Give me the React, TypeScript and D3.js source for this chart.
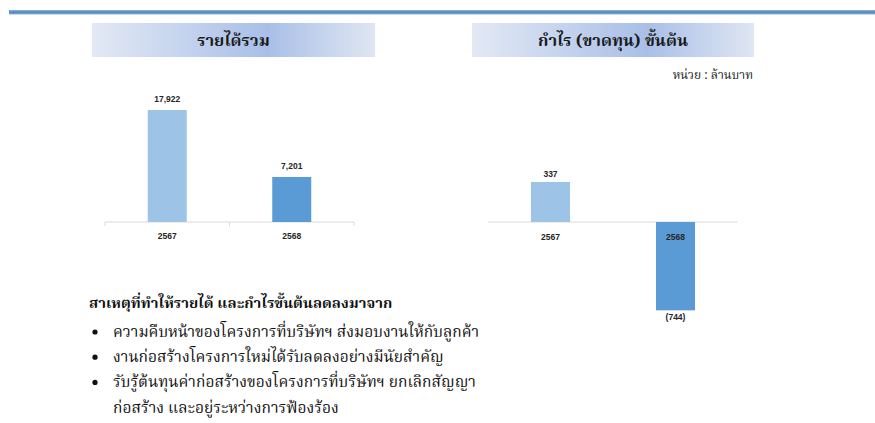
import React from "react";
import * as d3 from "d3";

const years = ["2567", "2568"];
const revenue = [17922, 7201];
const grossProfit = [337, -744];
const revenueLabels = ["17,922", "7,201"];
const profitLabels = ["337", "(744)"];
const barColors = ["#9dc3e6", "#5b9bd5"];
const titles = ["รายได้รวม", "กำไร (ขาดทุน) ขั้นต้น"];
const unitText = "หน่วย : ล้านบาท";
const heading = "สาเหตุที่ทำให้รายได้ และกำไรขั้นต้นลดลงมาจาก";
const bullets = [
  ["ความคืบหน้าของโครงการที่บริษัทฯ ส่งมอบงานให้กับลูกค้า"],
  ["งานก่อสร้างโครงการใหม่ได้รับลดลงอย่างมีนัยสำคัญ"],
  ["รับรู้ต้นทุนค่าก่อสร้างของโครงการที่บริษัทฯ ยกเลิกสัญญา", "ก่อสร้าง และอยู่ระหว่างการฟ้องร้อง"],
];

const W = 875;
const H = 423;
const thaiFont = "'Noto Serif Thai', 'Noto Sans Thai', 'Tlwg Typo', Loma, Garuda, 'DejaVu Serif', serif";
const numFont = "Liberation Sans, Arial, sans-serif";

export default function App() {
  // chart 1
  const x1 = d3.scaleBand<string>().domain(years).range([105, 354]);
  const y1 = d3.scaleLinear().domain([0, 20000]).range([222, 97]);
  // chart 2
  const x2 = d3.scaleBand<string>().domain(years).range([488, 738]);
  const y2 = d3.scaleLinear().domain([-800, 400]).range([317, 174.5]);
  const bw = 39;

  return (
    <svg width={W} height={H} style={{ position: "absolute", left: 0, top: 0, background: "#fff" }}>
      <defs>
        <linearGradient id="tg" x1="0" x2="1" y1="0" y2="0">
          <stop offset="0%" stopColor="#e3e9f5" />
          <stop offset="62%" stopColor="#a9bfe7" />
          <stop offset="100%" stopColor="#dfe6f3" />
        </linearGradient>
        <linearGradient id="tl" x1="0" x2="0" y1="0" y2="1">
          <stop offset="0%" stopColor="#8fb2d8" />
          <stop offset="50%" stopColor="#4f86bf" />
          <stop offset="100%" stopColor="#8fb2d8" />
        </linearGradient>
      </defs>
      <rect x={0} y={0} width={W} height={H} fill="#fff" />
      <rect x={9} y={10} width={W - 9} height={4.5} fill="url(#tl)" />

      {/* title boxes */}
      {[ [92, 375], [472, 754] ].map(([a, b], i) => (
        <g key={i}>
          <rect x={a} y={23} width={b - a} height={34} fill="url(#tg)" />
          <text x={(a + b) / 2} y={46} textAnchor="middle" fontFamily={thaiFont} fontWeight="bold" fontSize={16.5} fill="#1a1a1a">
            {titles[i]}
          </text>
        </g>
      ))}
      <text x={753} y={79} textAnchor="end" fontFamily={thaiFont} fontSize={12} fill="#222">{unitText}</text>

      {/* chart 1 */}
      <line x1={105} x2={354} y1={y1(0)} y2={y1(0)} stroke="#d9d9d9" strokeWidth={1} />
      {[105, x1("2568")!, 354].map((t, i) => (
        <line key={i} x1={t} x2={t} y1={y1(0)} y2={y1(0) + 4} stroke="#d9d9d9" />
      ))}
      {years.map((yr, i) => {
        const cx = x1(yr)! + x1.bandwidth() / 2;
        return (
          <g key={yr}>
            <rect x={cx - bw / 2} y={y1(revenue[i])} width={bw} height={y1(0) - y1(revenue[i])} fill={barColors[i]} />
            <text x={cx} y={y1(revenue[i]) - 8} textAnchor="middle" fontFamily={numFont} fontWeight="bold" fontSize={8.5} fill="#262626">
              {revenueLabels[i]}
            </text>
            <text x={cx} y={239} textAnchor="middle" fontFamily={numFont} fontWeight="bold" fontSize={8.5} fill="#262626">
              {yr}
            </text>
          </g>
        );
      })}

      {/* chart 2 */}
      <line x1={488} x2={738} y1={y2(0)} y2={y2(0)} stroke="#d9d9d9" strokeWidth={1} />
      {years.map((yr, i) => {
        const cx = x2(yr)! + x2.bandwidth() / 2;
        const v = grossProfit[i];
        const top = Math.min(y2(v), y2(0));
        const h = Math.abs(y2(v) - y2(0));
        return (
          <g key={yr}>
            <rect x={cx - bw / 2} y={top} width={bw} height={h} fill={barColors[i]} />
            <text x={cx} y={v >= 0 ? y2(v) - 5 : y2(v) + 10} textAnchor="middle" fontFamily={numFont} fontWeight="bold" fontSize={8.5} fill="#262626">
              {profitLabels[i]}
            </text>
            <text x={cx} y={240} textAnchor="middle" fontFamily={numFont} fontWeight="bold" fontSize={8.5} fill="#262626">
              {yr}
            </text>
          </g>
        );
      })}

      {/* text block */}
      <text x={89} y={308} fontFamily={thaiFont} fontWeight="bold" fontSize={14.8} fill="#111">{heading}</text>
      {(() => {
        const rows: React.ReactNode[] = [];
        let yPos = 337;
        bullets.forEach((lines, bi) => {
          lines.forEach((ln, li) => {
            if (li === 0) {
              rows.push(<circle key={`b${bi}`} cx={95} cy={yPos - 5} r={2.6} fill="#111" />);
            }
            rows.push(
              <text key={`t${bi}-${li}`} x={113} y={yPos} fontFamily={thaiFont} fontSize={15.5} fill="#111">{ln}</text>
            );
            yPos += 25.2;
          });
        });
        return rows;
      })()}
    </svg>
  );
}
